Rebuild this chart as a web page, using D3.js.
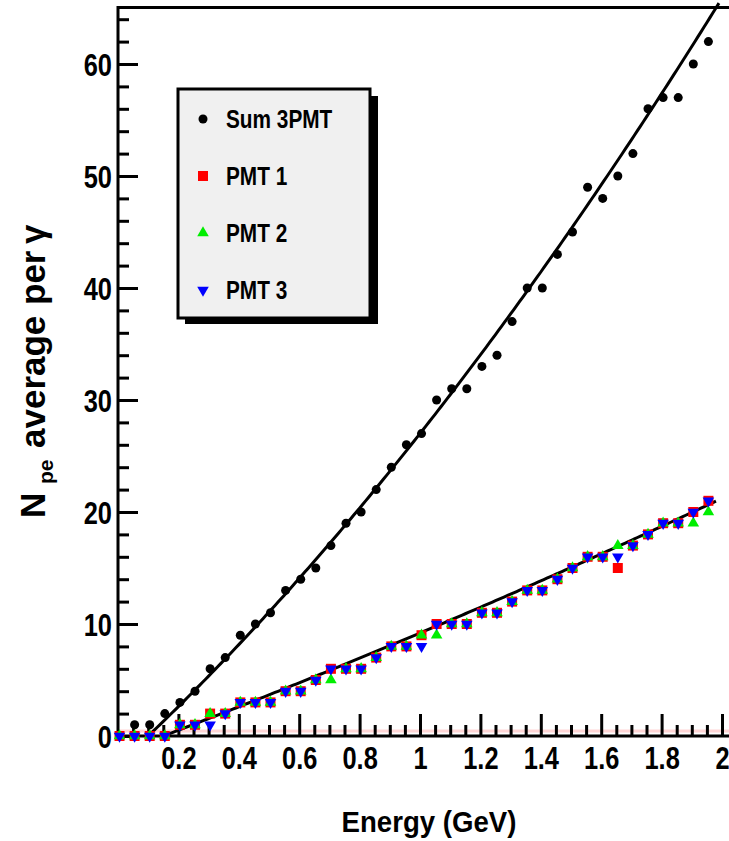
<!DOCTYPE html>
<html>
<head>
<meta charset="utf-8">
<script src="https://cdn.jsdelivr.net/npm/d3@7"></script>
<style>
  html, body { margin: 0; padding: 0; background: #fff; }
  svg { display: block; }
  text { font-family: "Liberation Sans", Arial, Helvetica, sans-serif; font-weight: bold; fill: #000; }
</style>
</head>
<body>
<svg id="chart" width="729" height="841"></svg>
<script>
// ---------------- data ----------------
const energy = [0.005,0.055,0.105,0.155,0.205,0.255,0.305,0.355,0.405,0.455,
                0.505,0.555,0.605,0.655,0.705,0.755,0.805,0.855,0.905,0.955,
                1.005,1.055,1.105,1.155,1.205,1.255,1.305,1.355,1.405,1.455,
                1.505,1.555,1.605,1.655,1.705,1.755,1.805,1.855,1.905,1.955];
const sum3PMT = [0,1,1,2,3,4,6,7,9,10,11,13,14,15,17,19,20,22,24,26,
                 27,30,31,31,33,34,37,40,40,43,45,49,48,50,52,56,57,57,60,62];
const pmt1 = [0,0,0,0,1,1,2,2,3,3,3,4,4,5,6,6,6,7,8,8,
              9,10,10,10,11,11,12,13,13,14,15,16,16,15,17,18,19,19,20,21];
const pmt2 = [0,0,0,0,1,1,2,2,3,3,3,4,4,5,5,6,6,7,8,8,
              9,9,10,10,11,11,12,13,13,14,15,16,16,17,17,18,19,19,19,20];
const pmt3 = [0,0,0,0,1,1,1,2,3,3,3,4,4,5,6,6,6,7,8,8,
              8,10,10,10,11,11,12,13,13,14,15,16,16,16,17,18,19,19,20,21];
const seriesNames = ["Sum 3PMT", "PMT 1", "PMT 2", "PMT 3"];
const xTickLabels = [0.2,0.4,0.6,0.8,1,1.2,1.4,1.6,1.8,2];
const yTickLabels = [0,10,20,30,40,50,60];
// quadratic fit parameters: y = a*(x-x0) + b*(x-x0)^2
const fitSum = {x0: 0.10, a: 25.8, b: 4.668, xmax: 1.99};
const fitPMT = {x0: 0.15, a: 10.26, b: 0.655, xmax: 1.98};

// ---------------- layout ----------------
const svg = d3.select("#chart");
svg.append("rect").attr("width", 729).attr("height", 841).attr("fill", "#fff");

const x = d3.scaleLinear().domain([0, 2]).range([118, 722]);
const y = d3.scaleLinear().domain([0, 65]).range([736, 8]);
const XS = 0.82; // horizontal compression of the bold labels

// pink line just above the x axis
svg.append("line").attr("x1", 118).attr("x2", 729)
  .attr("y1", 731).attr("y2", 731)
  .attr("stroke", "#ffd6d6").attr("stroke-width", 3);

// frame lines
svg.append("line").attr("x1", 118).attr("x2", 729).attr("y1", y(0)).attr("y2", y(0))
  .attr("stroke", "#000").attr("stroke-width", 3);
svg.append("line").attr("x1", 118).attr("x2", 729).attr("y1", y(65) - 0.5).attr("y2", y(65) - 0.5)
  .attr("stroke", "#000").attr("stroke-width", 3);
svg.append("line").attr("x1", x(0)).attr("x2", x(0)).attr("y1", 6).attr("y2", 737.5)
  .attr("stroke", "#000").attr("stroke-width", 3);

// x axis (ticks pointing inward/up)
const xMinor = d3.range(0.05, 2.001, 0.05).filter(v => Math.abs(v / 0.2 - Math.round(v / 0.2)) > 1e-6);
const gxm = svg.append("g").attr("transform", `translate(0,${y(0)})`)
  .call(d3.axisBottom(x).tickValues(xMinor).tickSize(-11).tickSizeOuter(0).tickFormat(""));
gxm.select(".domain").remove();
gxm.selectAll("line").attr("stroke", "#000").attr("stroke-width", 3);

const gx = svg.append("g").attr("transform", `translate(0,${y(0)})`)
  .call(d3.axisBottom(x).tickValues(xTickLabels).tickSize(-22).tickSizeOuter(0)
    .tickFormat(d => String(+d.toFixed(1))));
gx.select(".domain").remove();
gx.selectAll("line").attr("stroke", "#000").attr("stroke-width", 3);
gx.selectAll("text").attr("y", 33).attr("dy", null)
  .attr("font-size", 31).attr("font-family", null).attr("fill", "#000")
  .attr("transform", `scale(${XS},1)`);

// y axis (ticks pointing inward/right)
const yMinor = d3.range(2, 65, 2).filter(v => v % 10 !== 0);
const gym = svg.append("g").attr("transform", `translate(${x(0)},0)`)
  .call(d3.axisLeft(y).tickValues(yMinor).tickSize(-11).tickSizeOuter(0).tickFormat(""));
gym.select(".domain").remove();
gym.selectAll("line").attr("stroke", "#000").attr("stroke-width", 3);

const gy = svg.append("g").attr("transform", `translate(${x(0)},0)`)
  .call(d3.axisLeft(y).tickValues(yTickLabels).tickSize(-20).tickSizeOuter(0).tickFormat(d3.format("d")));
gy.select(".domain").remove();
gy.selectAll("line").attr("stroke", "#000").attr("stroke-width", 3);
gy.selectAll("text").attr("x", -6 / XS).attr("dy", "0.36em")
  .attr("font-size", 31).attr("font-family", null).attr("fill", "#000")
  .attr("transform", `scale(${XS},1)`);

// axis titles
svg.append("text").attr("transform", "translate(429,832) scale(0.92,1)")
  .attr("text-anchor", "middle").attr("font-size", 30).text("Energy (GeV)");

const yt = svg.append("g").attr("transform", "translate(45,0) rotate(-90)");
yt.append("text").attr("x", -518).attr("y", 0).attr("font-size", 35).text("N");
yt.append("text").attr("x", -484).attr("y", 8).attr("font-size", 21).text("pe");
yt.append("text").attr("x", -448).attr("y", 0).attr("font-size", 35).text("average");
yt.append("text").attr("x", -305).attr("y", 0).attr("font-size", 35).text("per");
yt.append("text").attr("x", -244).attr("y", 0).attr("font-size", 35).text("γ");

// fit curves
function fitLine(f) {
  const xs = d3.range(f.x0, f.xmax + 1e-9, 0.01);
  return d3.line()
    .x(v => x(v))
    .y(v => y(f.a * (v - f.x0) + f.b * (v - f.x0) * (v - f.x0)))(xs);
}
svg.append("path").attr("d", fitLine(fitSum)).attr("fill", "none")
  .attr("stroke", "#000").attr("stroke-width", 3);
svg.append("path").attr("d", fitLine(fitPMT)).attr("fill", "none")
  .attr("stroke", "#000").attr("stroke-width", 3);

// markers
const symCircle = d3.symbol().type(d3.symbolCircle).size(64)();
const symSquare = d3.symbol().type(d3.symbolSquare).size(100)();
const symTri = d3.symbol().type(d3.symbolTriangle).size(58)();

const series = [
  {name: seriesNames[0], vals: sum3PMT, path: symCircle, color: "#000000", rot: 0},
  {name: seriesNames[1], vals: pmt1, path: symSquare, color: "#ff0000", rot: 0},
  {name: seriesNames[2], vals: pmt2, path: symTri, color: "#00ee00", rot: 0},
  {name: seriesNames[3], vals: pmt3, path: symTri, color: "#0000ff", rot: 180}
];

series.forEach(s => {
  svg.append("g").selectAll("path").data(energy).join("path")
    .attr("d", s.path)
    .attr("fill", s.color)
    .attr("transform", (e, i) => `translate(${x(e)},${y(s.vals[i])}) rotate(${s.rot})`);
});

// legend
const lg = svg.append("g");
lg.append("rect").attr("x", 185).attr("y", 96).attr("width", 193).attr("height", 228).attr("fill", "#000");
lg.append("rect").attr("x", 178).attr("y", 89).attr("width", 192).attr("height", 229)
  .attr("fill", "#f0f0f0").attr("stroke", "#000").attr("stroke-width", 3);
const legY = [119, 176, 233, 290];
series.forEach((s, i) => {
  lg.append("path").attr("d", s.path).attr("fill", s.color)
    .attr("transform", `translate(203,${legY[i]}) rotate(${s.rot})`);
  lg.append("text").attr("transform", `translate(226,${legY[i]}) scale(0.8,1)`)
    .attr("dy", "0.36em").attr("font-size", 26).text(s.name);
});
</script>
</body>
</html>
